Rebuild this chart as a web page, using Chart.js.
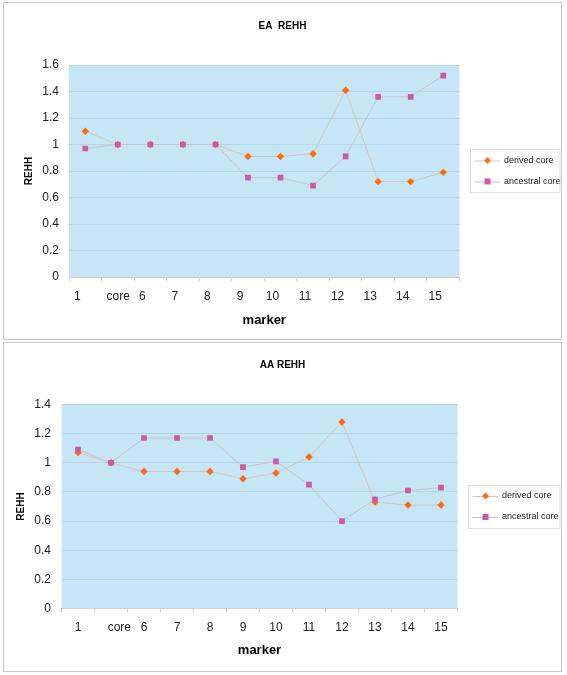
<!DOCTYPE html>
<html>
<head>
<meta charset="utf-8">
<script src="https://cdn.jsdelivr.net/npm/chart.js@4"></script>
<style>
  body { margin: 0; background: #fff; width: 567px; height: 675px; position: relative; overflow: hidden; }
  .box { position: absolute; left: 3px; width: 557px; border: 1px solid #c8c8c8; }
  #box1 { top: 2px; height: 336px; }
  #box2 { top: 342px; height: 328px; }
  canvas { display: block; }
</style>
</head>
<body>
<div class="box" id="box1"><canvas id="ea" width="557" height="336"></canvas></div>
<div class="box" id="box2"><canvas id="aa" width="557" height="328"></canvas></div>
<script>
const markers = ["1", "core", "6", "7", "8", "9", "10", "11", "12", "13", "14", "15"];
const seriesNames = ["derived core", "ancestral core"];

const eaDerived   = [1.10, 1.00, 1.00, 1.00, 1.00, 0.91, 0.91, 0.93, 1.41, 0.72, 0.72, 0.79];
const eaAncestral = [0.97, 1.00, 1.00, 1.00, 1.00, 0.75, 0.75, 0.69, 0.91, 1.36, 1.36, 1.52];

const aaDerived   = [1.07, 1.00, 0.94, 0.94, 0.94, 0.89, 0.93, 1.04, 1.28, 0.73, 0.71, 0.71];
const aaAncestral = [1.09, 1.00, 1.17, 1.17, 1.17, 0.97, 1.01, 0.85, 0.60, 0.75, 0.81, 0.83];

const orange = "#ff6a10";
const pink = "#cc58a6";
const lineDerived = "#cfc6bf";
const lineAncestral = "#cbbfd0";

Chart.defaults.font.family = "'Liberation Sans', Arial, sans-serif";
Chart.defaults.color = "#222";

// small line + marker picture for the legend
function legendIcon(color, lineColor, shape) {
  const c = document.createElement("canvas");
  c.width = 28;
  c.height = 10;
  const g = c.getContext("2d");
  g.strokeStyle = lineColor;
  g.lineWidth = 1;
  g.beginPath();
  g.moveTo(3, 5.5);
  g.lineTo(28, 5.5);
  g.stroke();
  g.fillStyle = color;
  g.beginPath();
  if (shape === "diamond") {
    g.moveTo(16, 1.5); g.lineTo(19.5, 5); g.lineTo(16, 8.5); g.lineTo(12.5, 5);
  } else {
    g.rect(13, 2, 6, 6);
  }
  g.fill();
  return c;
}
const icons = [legendIcon(orange, lineDerived, "diamond"), legendIcon(pink, lineAncestral, "square")];

const plotBackground = {
  id: "plotBackground",
  beforeDraw(chart) {
    const { ctx, chartArea: a } = chart;
    ctx.save();
    ctx.fillStyle = "#c6e6f5";
    ctx.fillRect(a.left, a.top, a.right - a.left, a.bottom - a.top);
    ctx.restore();
  }
};

const legendFrame = {
  id: "legendFrame",
  afterDraw(chart) {
    const hb = chart.legend.legendHitBoxes;
    if (!hb || !hb.length) return;
    const last = hb[hb.length - 1];
    const ctx = chart.ctx;
    const left = Math.round(hb[0].left - 1.5) + 0.5;
    const top = Math.round(hb[0].top - 7) + 0.5;
    const bottom = Math.round(last.top + last.height + 6) + 0.5;
    ctx.save();
    ctx.strokeStyle = "#e0e0e0";
    ctx.lineWidth = 1;
    ctx.strokeRect(left, top, chart.width - 1 - left, bottom - top);
    ctx.restore();
  }
};

function makeChart(id, title, derived, ancestral, yMax, lay) {
  return new Chart(document.getElementById(id), {
    type: "line",
    data: {
      labels: markers,
      datasets: [
        {
          label: seriesNames[0],
          data: derived,
          borderColor: lineDerived,
          borderWidth: 1,
          pointStyle: "rectRot",
          pointRadius: 3.7,
          pointBackgroundColor: orange,
          pointBorderWidth: 0,
          tension: 0,
          order: 1
        },
        {
          label: seriesNames[1],
          data: ancestral,
          borderColor: lineAncestral,
          borderWidth: 1,
          pointStyle: "rect",
          pointRadius: 4,
          pointBackgroundColor: pink,
          pointBorderWidth: 0,
          tension: 0,
          order: 0
        }
      ]
    },
    options: {
      responsive: false,
      animation: false,
      layout: { padding: 0 },
      plugins: {
        title: {
          display: true,
          text: title,
          color: "#000",
          font: { size: 10, weight: "bold" },
          padding: { top: lay.titleTop, bottom: lay.titleBottom }
        },
        legend: {
          position: "right",
          fullSize: false,
          maxWidth: lay.legendWidth,
          labels: {
            usePointStyle: true,
            pointStyleWidth: 28,
            padding: 12,
            color: "#222",
            font: { size: 9 },
            sort: (a, b) => a.datasetIndex - b.datasetIndex,
            generateLabels(chart) {
              const items = Chart.defaults.plugins.legend.labels.generateLabels(chart);
              items.forEach((it) => { it.pointStyle = icons[it.datasetIndex]; });
              return items;
            }
          }
        },
        tooltip: { enabled: false }
      },
      scales: {
        x: {
          offset: true,
          grid: { offset: true, drawOnChartArea: false, tickLength: 4, color: "#d0d0d0" },
          border: { color: "#d0d0d0" },
          ticks: {
            autoSkip: false,
            maxRotation: 0,
            padding: lay.xTickPad,
            labelOffset: lay.labelShift,
            font: { size: 12 },
            callback: (v, i) => (markers[i] === "core" ? "     core" : markers[i])
          },
          title: {
            display: true,
            text: "marker",
            color: "#000",
            font: { size: 13, weight: "bold" },
            padding: { top: 0, bottom: lay.xTitleBottom }
          },
          afterFit: (s) => { s.height = lay.xHeight; }
        },
        y: {
          min: 0,
          max: yMax,
          ticks: {
            stepSize: 0.2,
            padding: lay.yTickPad,
            font: { size: 12 },
            callback: (v) => String(+v.toFixed(1))
          },
          grid: { color: "#b6d7e8", drawTicks: false },
          border: { display: false },
          title: {
            display: true,
            text: "REHH",
            color: "#000",
            font: { size: 10, weight: "bold" },
            padding: { top: lay.yTitleTop, bottom: 0 }
          },
          afterFit: (s) => { s.width = lay.yWidth; }
        }
      }
    },
    plugins: [plotBackground, legendFrame]
  });
}

makeChart("ea", "EA  REHH", eaDerived, eaAncestral, 1.6, {
  titleTop: 17, titleBottom: 33,
  xHeight: 62, xTickPad: 8, xTitleBottom: 11, labelShift: -8,
  yWidth: 65, yTickPad: 10, yTitleTop: 19,
  legendWidth: 101.5
});

makeChart("aa", "AA REHH", aaDerived, aaAncestral, 1.4, {
  titleTop: 16, titleBottom: 33.5,
  xHeight: 62.5, xTickPad: 7.5, xTitleBottom: 13, labelShift: 0,
  yWidth: 57.5, yTickPad: 10.5, yTitleTop: 11,
  legendWidth: 103.5
});
</script>
</body>
</html>
